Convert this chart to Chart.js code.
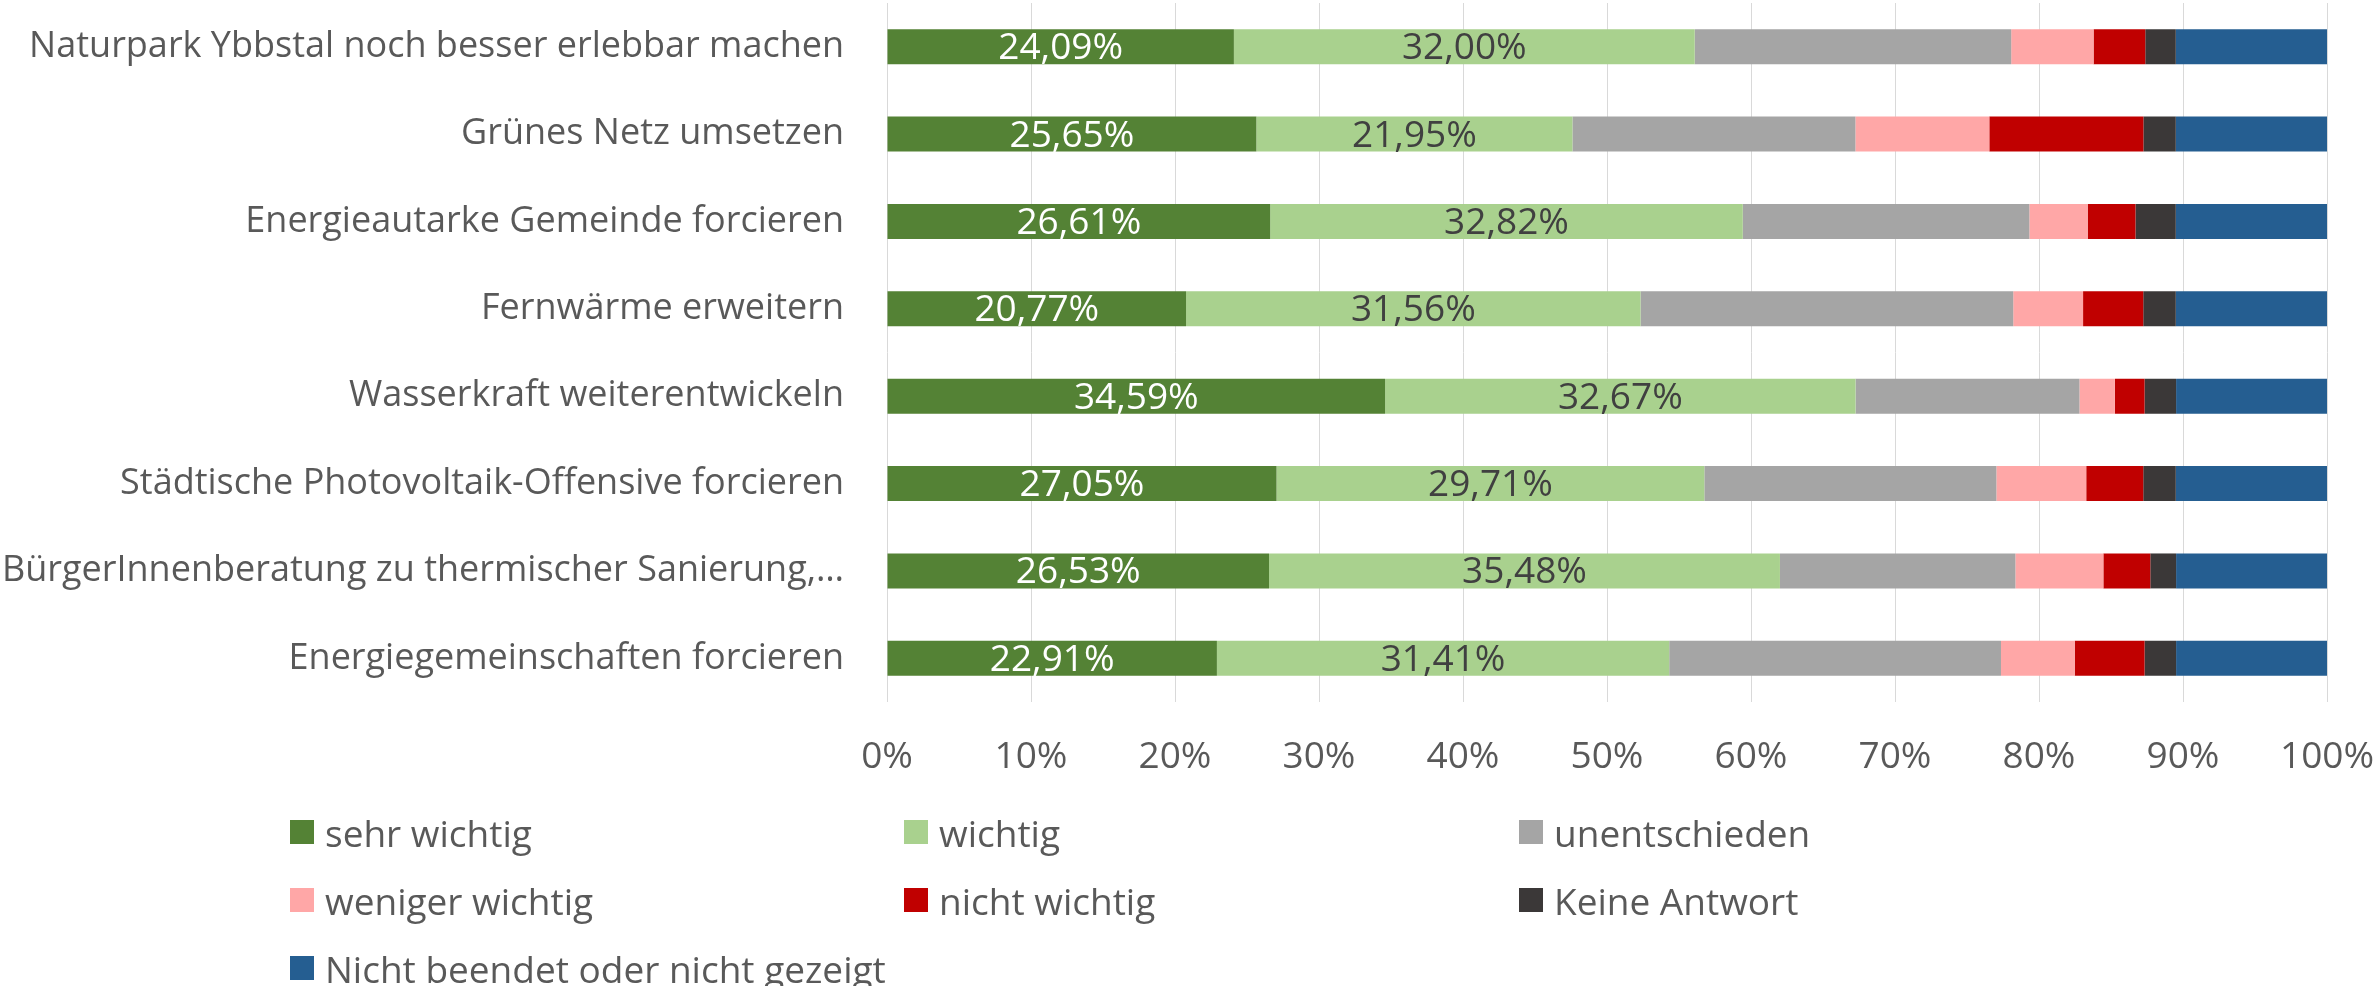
<!DOCTYPE html>
<html>
<head>
<meta charset="utf-8">
<script src="https://cdn.jsdelivr.net/npm/chart.js@4/dist/chart.umd.min.js"></script>
<style>
  body { margin: 0; background: #fff; }
  #wrap { position: relative; width: 2380px; height: 986px; overflow: hidden; }
  #legend {
    position: absolute; left: 290px; top: 798px;
    display: grid; grid-template-columns: 614px 615px 600px; grid-auto-rows: 68px;
    font-family: "Open Sans", sans-serif; font-size: 37px; color: #595959;
  }
  #legend .item { display: flex; align-items: center; white-space: nowrap; }
  #legend .box { width: 24px; height: 24px; margin-right: 11px; flex: none; }
</style>
</head>
<body>
<div id="wrap">
  <canvas id="myChart" width="2380" height="986"></canvas>
  <div id="legend"></div>
</div>
<script>
// categories (top to bottom)
var categories = [
  "Naturpark Ybbstal noch besser erlebbar machen",
  "Grünes Netz umsetzen",
  "Energieautarke Gemeinde forcieren",
  "Fernwärme erweitern",
  "Wasserkraft weiterentwickeln",
  "Städtische Photovoltaik-Offensive forcieren",
  "BürgerInnenberatung zu thermischer Sanierung,…",
  "Energiegemeinschaften forcieren"
];

// series values in percent
var sehrWichtig    = [24.09, 25.65, 26.61, 20.77, 34.59, 27.05, 26.53, 22.91];
var wichtig        = [32.00, 21.95, 32.82, 31.56, 32.67, 29.71, 35.48, 31.41];
var unentschieden  = [21.98, 19.65, 19.90, 25.88, 15.55, 20.28, 16.35, 23.04];
var wenigerWichtig = [5.72, 9.30, 4.05, 4.85, 2.46, 6.24, 6.11, 5.12];
var nichtWichtig   = [3.59, 10.70, 3.32, 4.18, 2.06, 3.96, 3.26, 4.85];
var keineAntwort   = [2.12, 2.25, 2.80, 2.26, 2.19, 2.26, 1.79, 2.19];
var nichtBeendet   = [10.50, 10.50, 10.50, 10.50, 10.50, 10.50, 10.50, 10.50];

var seriesNames = ["sehr wichtig", "wichtig", "unentschieden", "weniger wichtig",
                   "nicht wichtig", "Keine Antwort", "Nicht beendet oder nicht gezeigt"];
var seriesColors = ["#548235", "#A9D18E", "#A5A5A5", "#FFA7A7", "#C00000", "#3B3838", "#255E91"];
var seriesData = [sehrWichtig, wichtig, unentschieden, wenigerWichtig, nichtWichtig, keineAntwort, nichtBeendet];

// x axis ticks
var tickValues = [0, 10, 20, 30, 40, 50, 60, 70, 80, 90, 100];

var textColor = "#595959";
var fontFamily = "'Open Sans', sans-serif";

// percent labels on the first two series only
var barLabels = {
  id: "barLabels",
  afterDatasetsDraw: function (chart) {
    var ctx = chart.ctx;
    ctx.save();
    ctx.font = "37px " + fontFamily;
    ctx.textAlign = "center";
    ctx.textBaseline = "middle";
    [0, 1].forEach(function (di) {
      var meta = chart.getDatasetMeta(di);
      ctx.fillStyle = di === 0 ? "#ffffff" : "#404040";
      meta.data.forEach(function (bar, i) {
        var v = chart.data.datasets[di].data[i];
        var txt = v.toFixed(2).replace(".", ",") + "%";
        ctx.fillText(txt, (bar.x + bar.base) / 2, bar.y + 2);
      });
    });
    ctx.restore();
  }
};

var datasets = seriesNames.map(function (name, i) {
  return {
    label: name,
    data: seriesData[i],
    backgroundColor: seriesColors[i],
    borderWidth: 0,
    barPercentage: 0.4,
    categoryPercentage: 1.0
  };
});

var myChart = new Chart(document.getElementById("myChart").getContext("2d"), {
  type: "bar",
  data: { labels: categories, datasets: datasets },
  options: {
    indexAxis: "y",
    responsive: false,
    animation: false,
    devicePixelRatio: 1,
    layout: { padding: { left: 0, right: 53, top: 3, bottom: 0 } },
    plugins: {
      legend: { display: false },
      tooltip: { enabled: false }
    },
    scales: {
      x: {
        stacked: true,
        min: 0,
        max: 100,
        afterBuildTicks: function (axis) {
          axis.ticks = tickValues.map(function (v) { return { value: v }; });
        },
        afterFit: function (axis) {
          axis.height = 284;
          axis.paddingLeft = 0;
          axis.paddingRight = 0;
        },
        grid: { color: "#D9D9D9", lineWidth: 1, drawTicks: false },
        border: { display: false },
        ticks: {
          padding: 33,
          maxRotation: 0,
          color: textColor,
          font: { family: fontFamily, size: 37 },
          callback: function (v) { return v + "%"; }
        }
      },
      y: {
        stacked: true,
        afterFit: function (axis) {
          axis.width = 887;
          axis.paddingTop = 0;
          axis.paddingBottom = 0;
        },
        grid: { display: false, drawTicks: false },
        border: { display: false },
        ticks: {
          padding: 43,
          color: textColor,
          font: { family: fontFamily, size: 36 }
        }
      }
    }
  },
  plugins: [barLabels]
});

// legend in three columns
var legend = document.getElementById("legend");
datasets.forEach(function (ds) {
  var item = document.createElement("div");
  item.className = "item";
  var box = document.createElement("span");
  box.className = "box";
  box.style.background = ds.backgroundColor;
  var label = document.createElement("span");
  label.textContent = ds.label;
  item.appendChild(box);
  item.appendChild(label);
  legend.appendChild(item);
});
</script>
</body>
</html>
